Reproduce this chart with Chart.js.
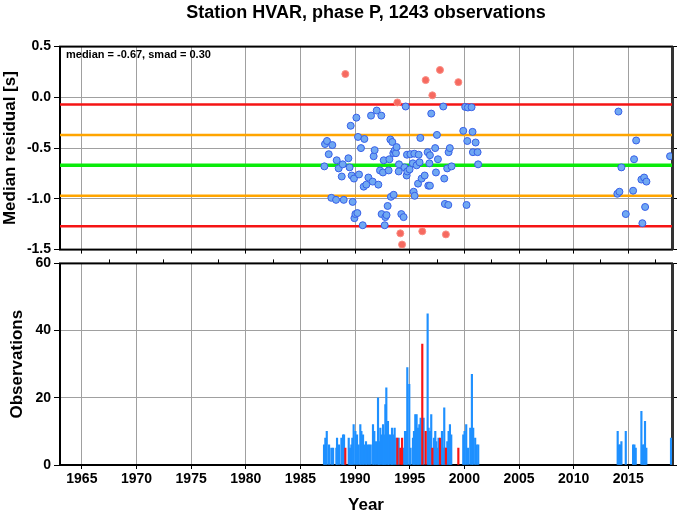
<!DOCTYPE html>
<html>
<head>
<meta charset="utf-8">
<script src="https://cdn.jsdelivr.net/npm/chart.js@4.4.1/dist/chart.umd.min.js"></script>
<style>
  html, body { margin: 0; padding: 0; background: #fff; }
  #wrap { position: relative; width: 678px; height: 511px; overflow: hidden; }
  #residualChart { position: absolute; left: 0; top: 0; }
  #obsChart { position: absolute; left: 0; top: 252px; }
</style>
</head>
<body>
<div id="wrap">
  <canvas id="residualChart" width="678" height="261"></canvas>
  <canvas id="obsChart" width="678" height="264"></canvas>
</div>
<script>
// station summary
var chartTitle = 'Station HVAR, phase P, 1243 observations';
var medianValue = -0.67;
var smadValue = 0.30;

// median residual per time bin (top panel)
var pointYears = [
  1987.19, 1987.25, 1987.43, 1987.59, 1987.83, 1987.92, 1988.26, 1988.32, 1988.50, 1988.78,
  1988.87, 1988.96, 1989.11, 1989.39, 1989.50, 1989.60, 1989.69, 1989.78, 1989.90, 1989.94,
  1990.03, 1990.12, 1990.21, 1990.27, 1990.36, 1990.54, 1990.70, 1990.79, 1990.85, 1991.03,
  1991.22, 1991.46, 1991.61, 1991.70, 1991.79, 1991.98, 1992.13, 1992.28, 1992.40, 1992.43,
  1992.55, 1992.62, 1992.71, 1992.77, 1992.88, 1992.98, 1993.07, 1993.14, 1993.23, 1993.28,
  1993.41, 1993.50, 1993.53, 1993.62, 1993.74, 1993.80, 1993.87, 1993.99, 1994.02, 1994.14,
  1994.23, 1994.30, 1994.44, 1994.53, 1994.63, 1994.72, 1994.75, 1994.78, 1994.99, 1995.06,
  1995.29, 1995.36, 1995.42, 1995.45, 1995.63, 1995.76, 1995.82, 1995.90, 1995.97, 1996.09,
  1996.15, 1996.37, 1996.46, 1996.64, 1996.70, 1996.80, 1996.85, 1996.85, 1996.97, 1997.07,
  1997.33, 1997.40, 1997.49, 1997.58, 1997.77, 1998.07, 1998.16, 1998.22, 1998.31, 1998.43,
  1998.53, 1998.56, 1998.67, 1998.83, 1999.45, 1999.90, 2000.08, 2000.20, 2000.27, 2000.32,
  2000.66, 2000.75, 2000.78, 2001.03, 2001.21, 2001.26,
  2014.00, 2014.10, 2014.19, 2014.37, 2014.77, 2015.44, 2015.53, 2015.72, 2016.20, 2016.29,
  2016.45, 2016.54, 2016.66, 2018.82
];
var pointMedians = [
  -0.68, -0.46, -0.43, -0.56, -0.99, -0.47, -1.01, -0.62, -0.70, -0.78,
  -0.66, -1.01, 0.23, -0.60, -0.69, -0.28, -0.77, -1.03, -0.80, -1.19,
  -1.15, -0.20, -1.14, -0.39, -0.76, -0.50, -1.26, -0.88, -0.41, -0.86,
  -0.79, -0.18, -0.83, -0.58, -0.52, -0.13, -0.86, -0.72, -0.18, -1.15,
  -0.74, -0.62, -1.26, -1.18, -1.16, -1.07, -0.72, -0.61, -0.415, -0.98,
  -0.44, -0.55, -0.96, -0.525, -0.55, -0.49, -0.05, -0.73, -0.66, -1.34,
  -1.15, -1.45, -1.18, -0.69, -0.09, -0.77, -0.565, -0.73, -0.71, -0.56,
  -0.65, -0.93, -0.555, -0.97, -0.67, -0.85, -0.565, -0.64, -0.40, -0.80,
  -1.32, -0.77, 0.17, -0.54, -0.87, -0.65, -0.57, -0.87, -0.16, 0.02,
  -0.50, -0.74, -0.37, -0.61, 0.27, -0.09, -0.80, -1.05, -1.35, -0.70,
  -1.06, -0.54, -0.50, -0.68, 0.15, -0.33, -0.094, -1.06, -0.43, -0.10,
  -0.097, -0.34, -0.54, -0.445, -0.54, -0.66,
  -0.95, -0.14, -0.93, -0.69, -1.15, -0.92, -0.61, -0.425, -0.81, -1.24,
  -0.79, -1.08, -0.83, -0.58
];

// observations per time bin (bottom panel)
var binYears = [
  1987.16, 1987.28, 1987.41, 1987.62, 1987.83, 1987.99, 1988.29, 1988.35, 1988.53, 1988.75,
  1988.90, 1988.99, 1989.42, 1989.54, 1989.66, 1989.75, 1989.87, 1990.03, 1990.18, 1990.33,
  1990.48, 1990.58, 1990.73, 1990.85, 1991.00, 1991.12, 1991.28, 1991.43, 1991.64, 1991.76,
  1991.92, 1992.10, 1992.19, 1992.31, 1992.43, 1992.56, 1992.65, 1992.77, 1992.86, 1993.01,
  1993.10, 1993.26, 1993.38, 1993.50, 1993.62, 1993.77, 1993.99, 1994.45, 1994.57, 1994.69,
  1994.78, 1994.96, 1995.08, 1995.30, 1995.39, 1995.51, 1995.63, 1995.75, 1995.88, 1996.00,
  1996.27, 1996.64, 1996.73, 1996.85, 1996.97, 1997.22, 1997.34, 1997.43, 1997.52, 1997.64,
  1997.95, 1998.04, 1998.16, 1998.25, 1998.44, 1998.56, 1998.68, 1998.80, 1999.90, 2000.02,
  2000.17, 2000.33, 2000.54, 2000.69, 2000.81, 2000.99, 2001.12, 2001.27,
  2014.03, 2014.13, 2014.25, 2014.37, 2014.77, 2015.44, 2015.56, 2015.68, 2016.20, 2016.32,
  2016.44, 2016.53, 2016.65, 2018.91
];
var binCounts = [
  6, 8, 10, 6, 5, 5, 5, 8, 6, 8,
  9, 9, 8, 5, 6, 8, 12, 10, 9, 6,
  12, 10, 9, 6, 7, 6, 6, 6, 12, 10,
  7, 20, 7, 11, 9, 12, 9, 18, 23, 13,
  9, 9, 11, 9, 11, 8, 8, 5, 10, 10,
  29, 24, 5, 8, 10, 15, 15, 11, 12, 14,
  14, 45, 11, 10, 15, 8, 10, 7, 5, 8,
  10, 5, 17, 5, 7, 10, 12, 9, 9, 10,
  12, 5, 11, 27, 11, 8, 6, 6,
  10, 6, 6, 7, 10, 6, 6, 5, 16, 6,
  6, 13, 5, 8
];
// bins whose median lies outside median +- 2 smad
var outlierBinYears = [1989.11, 1993.87, 1994.14, 1994.30, 1996.15, 1996.46, 1997.07, 1997.77, 1998.31, 1999.45];
var outlierBinCounts = [5, 8, 5, 8, 36, 10, 5, 8, 5, 5];

var yearTicks = [1965, 1970, 1975, 1980, 1985, 1990, 1995, 2000, 2005, 2010, 2015];

var tickFont = { family: 'Liberation Sans', size: 14, weight: 'bold' };
var titleFont = { family: 'Liberation Sans', size: 17, weight: 'bold' };
var headFont = { family: 'Liberation Sans', size: 18, weight: 'bold' };
var gridColor = '#a0a0a0';

function isOutlier(v) {
  return v > medianValue + 2 * smadValue || v < medianValue - 2 * smadValue;
}

var framePlugin = {
  id: 'frame',
  beforeDatasetsDraw: function (chart) {
    var a = chart.chartArea, c = chart.ctx;
    c.save();
    c.strokeStyle = '#000';
    c.lineWidth = 2;
    c.strokeRect(a.left, a.top, a.right - a.left, a.bottom - a.top);
    c.strokeStyle = '#333';
    c.lineWidth = 3;
    c.beginPath();
    c.moveTo(a.right + 0.5, a.top);
    c.lineTo(a.right + 0.5, a.bottom);
    c.stroke();
    c.restore();
  }
};

var statsPlugin = {
  id: 'statsLabel',
  afterDatasetsDraw: function (chart) {
    var a = chart.chartArea, c = chart.ctx;
    c.save();
    c.font = 'bold 11px "Liberation Sans"';
    c.fillStyle = '#000';
    c.textBaseline = 'middle';
    c.fillText('median = ' + medianValue.toFixed(2) + ', smad = ' + smadValue.toFixed(2), a.left + 6, a.top + 8);
    c.restore();
  }
};

function yearAxis(extra) {
  var axis = {
    type: 'linear',
    min: 1963,
    max: 2019,
    offset: false,
    afterBuildTicks: function (s) { s.ticks = yearTicks.map(function (v) { return { value: v }; }); },
    ticks: { display: false },
    grid: { color: gridColor, tickColor: '#000', tickLength: 4, offset: false },
    border: { display: false }
  };
  return Object.assign(axis, extra || {});
}

// horizontal reference levels: median, +-1 smad, +-2 smad
var levelSteps = [2, 1, 0, -1, -2];
var levelColors = ['rgb(245,20,20)', 'rgb(255,165,0)', 'rgb(10,235,10)', 'rgb(255,165,0)', 'rgb(245,20,20)'];
var levelWidths = [2.5, 2.5, 3.5, 2.5, 2.5];
var levelDatasets = levelSteps.map(function (k, i) {
  var lv = medianValue + k * smadValue;
  return {
    label: 'level ' + k,
    data: [{ x: 1963, y: lv }, { x: 2019, y: lv }],
    showLine: true,
    pointRadius: 0,
    borderColor: levelColors[i],
    borderWidth: levelWidths[i],
    order: 2
  };
});

// Residual panel
var ctx1 = document.getElementById('residualChart').getContext('2d');
var residualChart = new Chart(ctx1, {
  type: 'scatter',
  data: {
    datasets: [{
      label: 'Median residual',
      data: pointYears.map(function (x, i) { return { x: x, y: pointMedians[i] }; }),
      backgroundColor: pointMedians.map(function (v) { return isOutlier(v) ? 'rgb(246,105,95)' : 'rgb(112,168,242)'; }),
      borderColor: pointMedians.map(function (v) { return isOutlier(v) ? 'rgb(250,140,130)' : 'rgb(55,95,232)'; }),
      borderWidth: 1,
      pointRadius: 3.5,
      order: 1
    }].concat(levelDatasets)
  },
  options: {
    responsive: false,
    animation: false,
    layout: { padding: 0 },
    plugins: {
      legend: { display: false },
      tooltip: { enabled: false },
      title: {
        display: true,
        text: chartTitle,
        fullSize: false,
        color: '#000',
        font: headFont,
        padding: { top: 2, bottom: 23 }
      }
    },
    scales: {
      x: yearAxis({ afterFit: function (s) { s.height = 8; } }),
      y: {
        min: -1.5,
        max: 0.5,
        ticks: { stepSize: 0.5, color: '#000', font: tickFont, padding: 3, callback: function (v) { return v.toFixed(1); } },
        grid: { color: gridColor, tickColor: '#000', tickLength: 6 },
        border: { display: false },
        title: { display: true, text: 'Median residual [s]', color: '#000', font: titleFont, padding: 0 },
        afterFit: function (s) { s.width = 60; }
      },
      yRight: {
        position: 'right',
        min: -1.5,
        max: 0.5,
        ticks: { stepSize: 0.5, display: false },
        grid: { drawOnChartArea: false, tickColor: '#000', tickLength: 5 },
        border: { display: false },
        afterFit: function (s) { s.width = 6; }
      }
    }
  },
  plugins: [framePlugin, statsPlugin]
});

// Observations panel
var ctx2 = document.getElementById('obsChart').getContext('2d');
var obsChart = new Chart(ctx2, {
  type: 'bar',
  data: {
    datasets: [{
      label: 'Outlier bins',
      data: outlierBinYears.map(function (x, i) { return { x: x, y: outlierBinCounts[i] }; }),
      backgroundColor: 'rgb(250,20,20)',
      barThickness: 1.5,
      grouped: false,
      xAxisID: 'x',
      yAxisID: 'y'
    }, {
      label: 'Observations',
      data: binYears.map(function (x, i) { return { x: x, y: binCounts[i] }; }),
      backgroundColor: 'rgb(30,144,255)',
      barThickness: 1.5,
      grouped: false,
      xAxisID: 'x',
      yAxisID: 'y'
    }]
  },
  options: {
    responsive: false,
    animation: false,
    layout: { padding: 0 },
    plugins: { legend: { display: false }, tooltip: { enabled: false } },
    scales: {
      x: yearAxis({
        ticks: { display: true, color: '#000', font: tickFont, padding: 2, maxRotation: 0, autoSkip: false, callback: function (v) { return String(v); } },
        title: { display: true, text: 'Year', color: '#000', font: titleFont, padding: 0 },
        afterFit: function (s) { s.height = 51; }
      }),
      xTop: yearAxis({
        position: 'top',
        grid: { drawOnChartArea: false, tickColor: '#000', tickLength: 4 },
        afterFit: function (s) { s.height = 4; }
      }),
      y: {
        min: 0,
        max: 60,
        ticks: { stepSize: 20, color: '#000', font: tickFont, padding: 3 },
        grid: { color: gridColor, tickColor: '#000', tickLength: 6 },
        border: { display: false },
        title: { display: true, text: 'Observations', color: '#000', font: titleFont, padding: { top: 7 } },
        afterFit: function (s) { s.width = 60; }
      },
      yRight: {
        position: 'right',
        min: 0,
        max: 60,
        ticks: { stepSize: 20, display: false },
        grid: { drawOnChartArea: false, tickColor: '#000', tickLength: 5 },
        border: { display: false },
        afterFit: function (s) { s.width = 6; }
      }
    }
  },
  plugins: [framePlugin]
});
</script>
</body>
</html>
